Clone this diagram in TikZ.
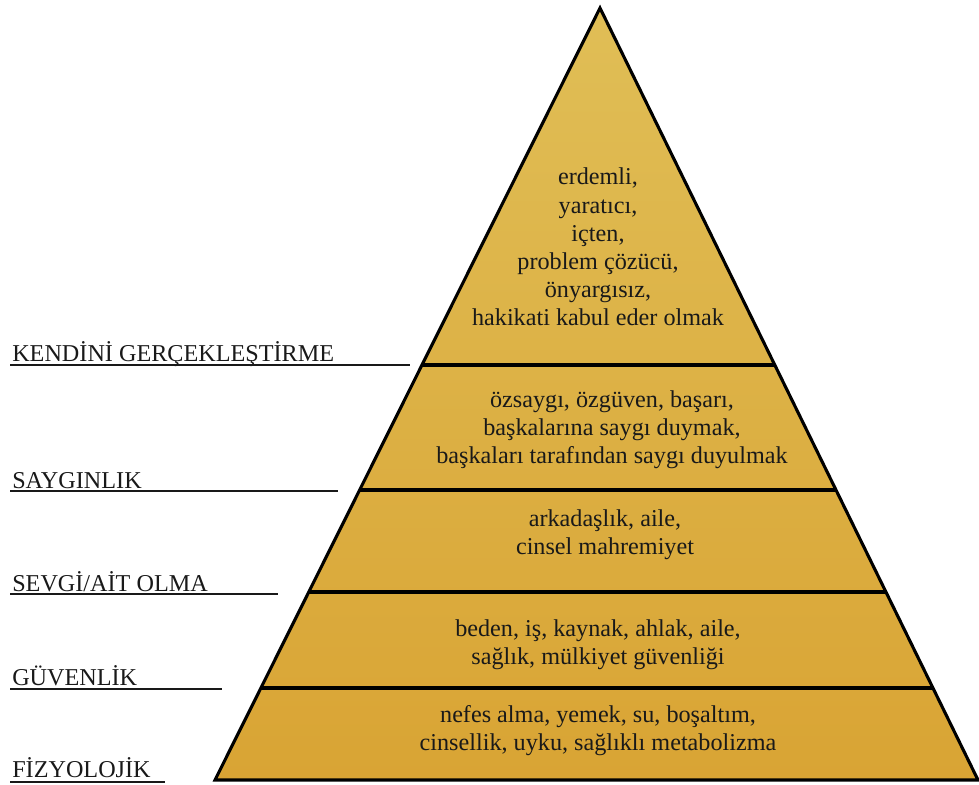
\documentclass[tikz,border=0pt]{standalone}
\usepackage{fontspec}
\setmainfont{Liberation Serif}
\usetikzlibrary{calc}
\definecolor{goldtop}{RGB}{224,190,86}
\definecolor{goldbot}{RGB}{217,164,52}
\definecolor{inkgray}{RGB}{25,25,25}
\tikzset{
  levtext/.style={font=\fontsize{17.2}{20}\selectfont, align=center, text=inkgray, inner sep=0pt},
  stagelabel/.style={font=\fontsize{17.2}{21}\selectfont, anchor=base west, inner sep=0pt, text=inkgray},
  edge/.style={line width=2.2pt, line join=miter},
  underl/.style={line width=2pt, inkgray}
}
\begin{document}
\begin{tikzpicture}[x=0.025cm,y=-0.025cm]
  \useasboundingbox (0,0) rectangle (979,784);

  \coordinate (apex) at (600,8);
  \coordinate (bl) at (215,780);
  \coordinate (br) at (978,780);

  \shade[top color=goldtop, bottom color=goldbot] (apex) -- (bl) -- (br) -- cycle;

  % dividers between the levels
  \foreach \y in {365,490,592,688} {
    \draw[edge] ($(apex)!{(\y-8)/772}!(bl)$) -- ($(apex)!{(\y-8)/772}!(br)$);
  }
  \draw[edge] (apex) -- (bl) -- (br) -- cycle;

  \node[levtext] (self) at (598,247) {erdemli,\\ yaratıcı,\\ içten,\\ problem çözücü,\\ önyargısız,\\ hakikati kabul eder olmak};
  \node[levtext] (esteem) at (612,430) {özsaygı, özgüven, başarı,\\ başkalarına saygı duymak,\\ başkaları tarafından saygı duyulmak};
  \node[levtext] (love) at (605,535) {arkadaşlık, aile,\\ cinsel mahremiyet};
  \node[levtext] (safety) at (598,645) {beden, iş, kaynak, ahlak, aile,\\ sağlık, mülkiyet güvenliği};
  \node[levtext] (physio) at (598,731) {nefes alma, yemek, su, boşaltım,\\ cinsellik, uyku, sağlıklı metabolizma};

  % level names on the left
  \foreach \name/\txt/\yb/\yl/\xe in {kendini/{KENDİNİ GERÇEKLEŞTİRME}/361/365/410,
      sayginlik/{SAYGINLIK}/488/491/338,
      sevgi/{SEVGİ/AİT OLMA}/591/594/278,
      guvenlik/{GÜVENLİK}/685/689/222,
      fizyo/{FİZYOLOJİK}/777/782/165} {
    \node[stagelabel] (\name) at (12,\yb) {\txt};
    \coordinate (\name end) at (\xe,\yl);
    \draw[underl] (10,\yl) -- (\name end);
  }
\end{tikzpicture}
\end{document}
